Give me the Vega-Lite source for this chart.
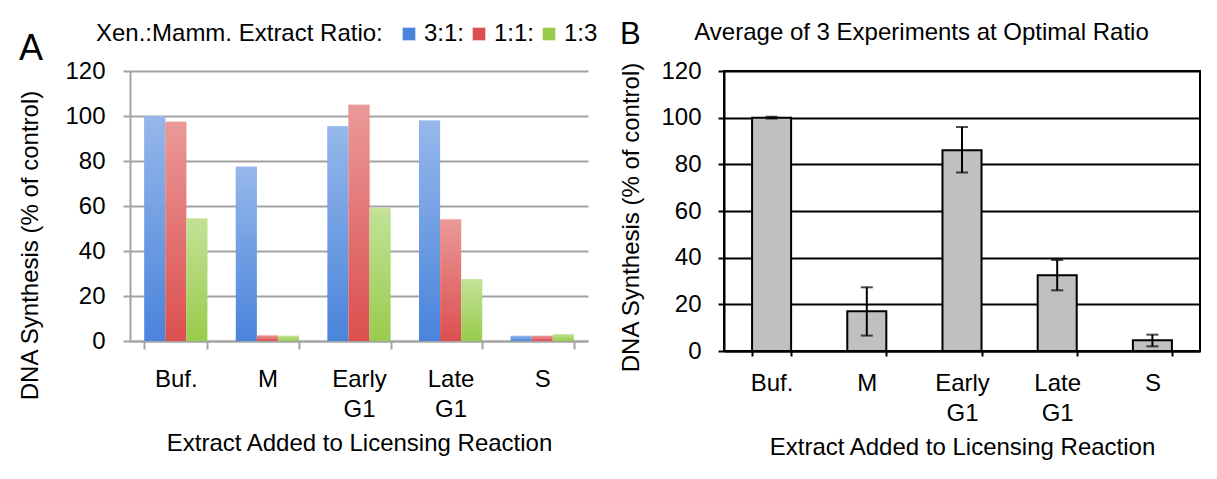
{
  "$schema": "https://vega.github.io/schema/vega-lite/v6.json",
  "background": "white",
  "padding": {"left": 18, "top": 18, "right": 0, "bottom": 0},
  "spacing": 30,
  "datasets": {
    "a": [
      {"extract": "Buf.", "ratio": "3:1", "value": 100},
      {"extract": "Buf.", "ratio": "1:1", "value": 97.5},
      {"extract": "Buf.", "ratio": "1:3", "value": 54.5},
      {"extract": "M", "ratio": "3:1", "value": 77.5},
      {"extract": "M", "ratio": "1:1", "value": 2.5},
      {"extract": "M", "ratio": "1:3", "value": 2.3},
      {"extract": "Early G1", "ratio": "3:1", "value": 95.5},
      {"extract": "Early G1", "ratio": "1:1", "value": 105},
      {"extract": "Early G1", "ratio": "1:3", "value": 59},
      {"extract": "Late G1", "ratio": "3:1", "value": 98},
      {"extract": "Late G1", "ratio": "1:1", "value": 54},
      {"extract": "Late G1", "ratio": "1:3", "value": 27.5},
      {"extract": "S", "ratio": "3:1", "value": 2.3},
      {"extract": "S", "ratio": "1:1", "value": 2.3},
      {"extract": "S", "ratio": "1:3", "value": 3}
    ],
    "b": [
      {"extract": "Buf.", "mean": 100, "lo": 99.6, "hi": 100.4},
      {"extract": "M", "mean": 17, "lo": 6.6, "hi": 27.3},
      {"extract": "Early G1", "mean": 86, "lo": 76.5, "hi": 96},
      {"extract": "Late G1", "mean": 32.5, "lo": 26, "hi": 39},
      {"extract": "S", "mean": 4.6, "lo": 2, "hi": 7}
    ]
  },
  "config": {
    "font": "Liberation Sans",
    "view": {"stroke": null},
    "axis": {
      "labelColor": "black", "titleColor": "black",
      "labelFont": "Liberation Sans", "titleFont": "Liberation Sans",
      "labelFontSize": 24, "titleFontSize": 24,
      "labelFontWeight": "normal", "titleFontWeight": "normal",
      "titleLimit": 0
    },
    "title": {"font": "Liberation Sans", "fontWeight": "normal", "color": "black"}
  },
  "hconcat": [
    {
      "width": 458,
      "height": 270,
      "data": {"name": "a"},
      "title": {"text": "A", "fontSize": 36, "anchor": "start", "frame": "bounds", "offset": -9},
      "encoding": {
        "x": {
          "field": "extract", "type": "nominal", "sort": null,
          "scale": {"paddingInner": 0.31, "paddingOuter": 0.155},
          "title": "Extract Added to Licensing Reaction",
          "axis": {
            "labelAngle": 0,
            "labelExpr": "indexof(datum.label, ' ') > 0 ? split(datum.label, ' ') : datum.label",
            "labelLineHeight": 30,
            "labelPadding": 18.5,
            "tickBand": "extent",
            "tickSize": 8, "tickWidth": 2, "tickColor": "#a3a3a3",
            "domainColor": "#a3a3a3", "domainWidth": 2,
            "titlePadding": 10
          }
        },
        "xOffset": {"field": "ratio", "type": "nominal", "sort": null, "scale": {"domain": ["3:1", "1:1", "1:3"]}},
        "y": {
          "field": "value", "type": "quantitative",
          "scale": {"domain": [0, 120]},
          "title": "DNA Synthesis (% of control)",
          "axis": {
            "values": [0, 20, 40, 60, 80, 100, 120],
            "labelPadding": 18,
            "tickSize": 7, "tickWidth": 2, "tickColor": "#a3a3a3",
            "domainColor": "#a3a3a3", "domainWidth": 2,
            "gridColor": "#a3a3a3", "gridWidth": 2,
            "titlePadding": 22,
            "titleY": 174
          }
        }
      },
      "layer": [
        {
          "mark": {"type": "bar"},
          "encoding": {
            "color": {
              "field": "ratio", "type": "nominal",
              "scale": {"domain": ["3:1", "1:1", "1:3"], "range": ["#4a84dc", "#dc4f4f", "#98cc4c"]},
              "legend": {
                "orient": "none", "legendX": -34, "legendY": -49,
                "direction": "horizontal",
                "title": "Xen.:Mamm. Extract Ratio:",
                "titleOrient": "left",
                "titleLimit": 0,
                "titleFontSize": 24, "titleFontWeight": "normal", "titleColor": "black", "titleFont": "Liberation Sans",
                "titlePadding": 14,
                "labelFontSize": 24, "labelColor": "black", "labelFont": "Liberation Sans",
                "labelExpr": "datum.label == '1:3' ? datum.label : datum.label + ':'",
                "symbolType": "square", "symbolSize": 160, "symbolStrokeWidth": 0,
                "labelOffset": 3, "columnPadding": 2
              }
            }
          }
        },
        {
          "mark": {
            "type": "bar",
            "color": {
              "gradient": "linear", "x1": 0, "y1": 0, "x2": 0, "y2": 1,
              "stops": [
                {"offset": 0, "color": "rgba(255,255,255,0.42)"},
                {"offset": 1, "color": "rgba(255,255,255,0)"}
              ]
            }
          }
        }
      ]
    },
    {
      "width": 476,
      "height": 280,
      "data": {"name": "b"},
      "view": {"stroke": "black", "strokeWidth": 2},
      "title": {"text": "B", "fontSize": 31, "anchor": "start", "frame": "bounds", "offset": -31},
      "resolve": {"axis": {"x": "independent"}},
      "layer": [
        {
          "mark": {"type": "bar", "color": "#c0c0c0", "stroke": "black", "strokeWidth": 2},
          "encoding": {
            "x": {
              "field": "extract", "type": "nominal", "sort": null,
              "scale": {"paddingInner": 0.59, "paddingOuter": 0.295},
              "title": "Extract Added to Licensing Reaction",
              "axis": {
                "labelAngle": 0,
                "labelExpr": "indexof(datum.label, ' ') > 0 ? split(datum.label, ' ') : datum.label",
                "labelLineHeight": 30,
                "labelPadding": 15,
                "tickBand": "extent",
                "tickSize": 5, "tickWidth": 2, "tickColor": "black",
                "domainColor": "black", "domainWidth": 2,
                "titlePadding": 10
              }
            },
            "y": {
              "field": "mean", "type": "quantitative",
              "scale": {"domain": [0, 120]},
              "title": "DNA Synthesis (% of control)",
              "axis": {
                "values": [0, 20, 40, 60, 80, 100, 120],
                "labelPadding": 17,
                "tickSize": 6, "tickWidth": 2, "tickColor": "black",
                "domainColor": "black", "domainWidth": 2,
                "gridColor": "black", "gridWidth": 2,
                "titlePadding": 17,
                "titleY": 146
              }
            }
          }
        },
        {
          "mark": {"type": "rule", "color": "black", "strokeWidth": 2},
          "encoding": {
            "x": {
              "field": "extract", "type": "nominal", "sort": null,
              "axis": {
                "orient": "top", "labels": false, "ticks": false, "domain": false, "grid": false,
                "title": "Average of 3 Experiments at Optimal Ratio",
                "titlePadding": 27, "titleX": 197
              }
            },
            "y": {"field": "lo", "type": "quantitative", "title": "DNA Synthesis (% of control)"},
            "y2": {"field": "hi"}
          }
        },
        {
          "mark": {"type": "tick", "color": "black", "size": 12, "thickness": 2},
          "encoding": {
            "x": {"field": "extract", "type": "nominal", "sort": null, "axis": null},
            "y": {"field": "lo", "type": "quantitative", "title": "DNA Synthesis (% of control)"}
          }
        },
        {
          "mark": {"type": "tick", "color": "black", "size": 12, "thickness": 2},
          "encoding": {
            "x": {"field": "extract", "type": "nominal", "sort": null, "axis": null},
            "y": {"field": "hi", "type": "quantitative", "title": "DNA Synthesis (% of control)"}
          }
        }
      ]
    }
  ]
}
